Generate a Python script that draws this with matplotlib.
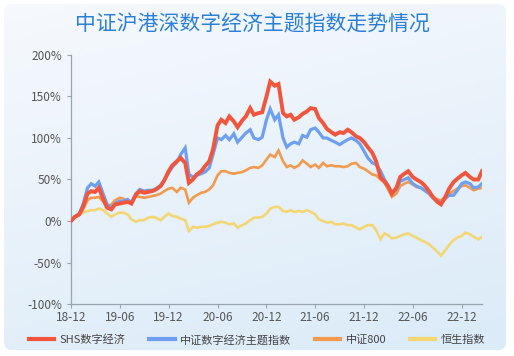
import numpy as np
import pandas as pd
import matplotlib
matplotlib.use("Agg")
import matplotlib.pyplot as plt
from matplotlib.patches import FancyBboxPatch

plt.rcParams['font.family'] = ['Noto Sans CJK SC', 'DejaVu Sans']

# semi-monthly readings (%), Dec 2018 -> Feb 2023
dates = pd.date_range('2018-12-01', periods=102, freq='SMS')

shs = [0, 5, 8, 17, 33, 36, 35, 40, 26, 16, 14, 20, 21, 22, 23, 21, 32, 36, 34, 35,
       36, 38, 42, 49, 60, 67, 72, 76, 70, 46, 50, 56, 60, 66, 72, 86, 115, 122, 118, 126,
       120, 113, 121, 126, 136, 128, 130, 131, 150, 168, 163, 165, 130, 126, 128, 122, 125, 129, 132, 136,
       135, 124, 118, 111, 107, 104, 107, 106, 110, 107, 102, 100, 95, 89, 82, 72, 52, 48, 42, 33,
       40, 53, 57, 60, 53, 50, 47, 43, 36, 29, 23, 20, 29, 39, 47, 51, 55, 58, 53, 50,
       50, 60]
csi_digital = [0, 5, 9, 20, 40, 45, 42, 47, 32, 20, 16, 21, 24, 24, 26, 22, 33, 38, 36, 37,
               37, 39, 43, 49, 58, 65, 71, 80, 88, 56, 53, 55, 57, 59, 64, 80, 100, 98, 103, 98,
               105, 95, 101, 106, 110, 100, 98, 101, 122, 135, 122, 128, 100, 89, 93, 95, 93, 103, 101, 110,
               112, 107, 100, 100, 97, 95, 92, 95, 98, 100, 97, 93, 84, 76, 70, 68, 60, 50, 42, 33,
               38, 48, 50, 52, 45, 42, 40, 37, 33, 28, 24, 22, 27, 31, 31, 37, 45, 47, 45, 40,
               41, 45]
csi800 = [0, 4, 7, 14, 25, 28, 28, 29, 23, 17, 20, 25, 28, 27, 23, 22, 30, 29, 28, 29,
          30, 31, 33, 36, 39, 40, 35, 40, 38, 22, 28, 31, 34, 35, 38, 43, 55, 60, 60, 58,
          57, 58, 59, 61, 64, 65, 64, 67, 74, 80, 77, 85, 72, 65, 67, 64, 67, 73, 69, 65,
          68, 64, 70, 66, 67, 66, 66, 65, 66, 69, 70, 65, 63, 60, 56, 55, 50, 46, 38, 29,
          33, 42, 45, 47, 44, 41, 40, 37, 33, 30, 26, 25, 29, 33, 36, 39, 42, 43, 40, 37,
          39, 40]
hsi = [0, 4, 8, 10, 12, 13, 13, 15, 13, 9, 5, 8, 10, 10, 8, 2, -1, 1, 1, 4,
       5, 4, 1, 5, 9, 6, 5, 3, 1, -12, -7, -8, -7, -7, -6, -4, -2, -1, -2, -4,
       -3, -8, -5, -3, 1, 4, 4, 5, 9, 15, 17, 17, 12, 11, 13, 11, 12, 11, 13, 11,
       8, 2, 0, -2, -1, -4, -4, -3, -5, -5, -8, -10, -7, -5, -5, -11, -22, -15, -17, -21,
       -20, -18, -16, -15, -18, -20, -23, -25, -28, -32, -37, -42, -35, -29, -23, -20, -18, -14, -16, -19,
       -22, -19]

names = ['SHS数字经济', '中证数字经济主题指数', '中证800', '恒生指数']
colors = ['#f1553b', '#6f9ff0', '#f39a4e', '#f4d672']
tick_dates = pd.date_range('2018-12-01', '2022-12-01', freq='6MS')
tick_labels = [d.strftime('%y-%m') for d in tick_dates]

fig = plt.figure(figsize=(5.14, 3.56), dpi=100)

# background card with soft gradient
bg = fig.add_axes([0, 0, 1, 1], zorder=-10)
bg.set_xlim(0, 514)
bg.set_ylim(356, 0)
bg.axis('off')
gy, gx = np.mgrid[0:1:100j, 0:1:100j]
grad = 0.75 * gy + 0.25 * gx
img = bg.imshow(grad, extent=[4, 506, 350, 4], cmap=matplotlib.colors.LinearSegmentedColormap.from_list(
    'bgc', ['#f6f9fd', '#dbebf8']), vmin=0, vmax=1, aspect='auto')
card = FancyBboxPatch((4, 4), 502, 346, boxstyle='round,pad=0,rounding_size=8',
                      transform=bg.transData, facecolor='none', edgecolor='none')
bg.add_patch(card)
img.set_clip_path(card)

fig.text(0.492, 0.93, '中证沪港深数字经济主题指数走势情况', ha='center', va='center',
         fontsize=15, color='#2b7fd6')

ax = fig.add_axes([71 / 514, 1 - 304 / 356, (482 - 71) / 514, (304 - 55) / 356])
ax.patch.set_alpha(0)
series = [shs, csi_digital, csi800, hsi]
widths = [2.8, 2.3, 1.9, 1.9]
zs = [5, 4, 3, 2]
for s, n, c, w, z in zip(series, names, colors, widths, zs):
    ax.plot(dates, s, color=c, lw=w, label=n, zorder=z, solid_joinstyle='miter')

ax.set_ylim(-100, 200)
ax.set_yticks(np.arange(-100, 201, 50))
ax.set_yticklabels([f'{v}%' for v in range(-100, 201, 50)])
ax.set_xlim(dates[0], dates[-1])
ax.set_xticks(tick_dates)
ax.set_xticklabels(tick_labels)
for sp in ['top', 'right']:
    ax.spines[sp].set_visible(False)
for sp in ['left', 'bottom']:
    ax.spines[sp].set_color('#9aa4ae')
    ax.spines[sp].set_linewidth(0.9)
ax.tick_params(axis='both', colors='#9aa4ae', labelcolor='#555555', labelsize=8.5, length=3, width=0.8)
ax.tick_params(axis='x', pad=2)

handles, labels = ax.get_legend_handles_labels()
leg = fig.legend(handles, labels, loc='center', bbox_to_anchor=(0.5, 0.045), ncol=4, frameon=False,
                 fontsize=8, handlelength=2.3, columnspacing=2.1, handletextpad=0.5)
for line in leg.get_lines():
    line.set_linewidth(3)
for t in leg.get_texts():
    t.set_color('#444444')

fig.savefig('out.png', dpi=100)
